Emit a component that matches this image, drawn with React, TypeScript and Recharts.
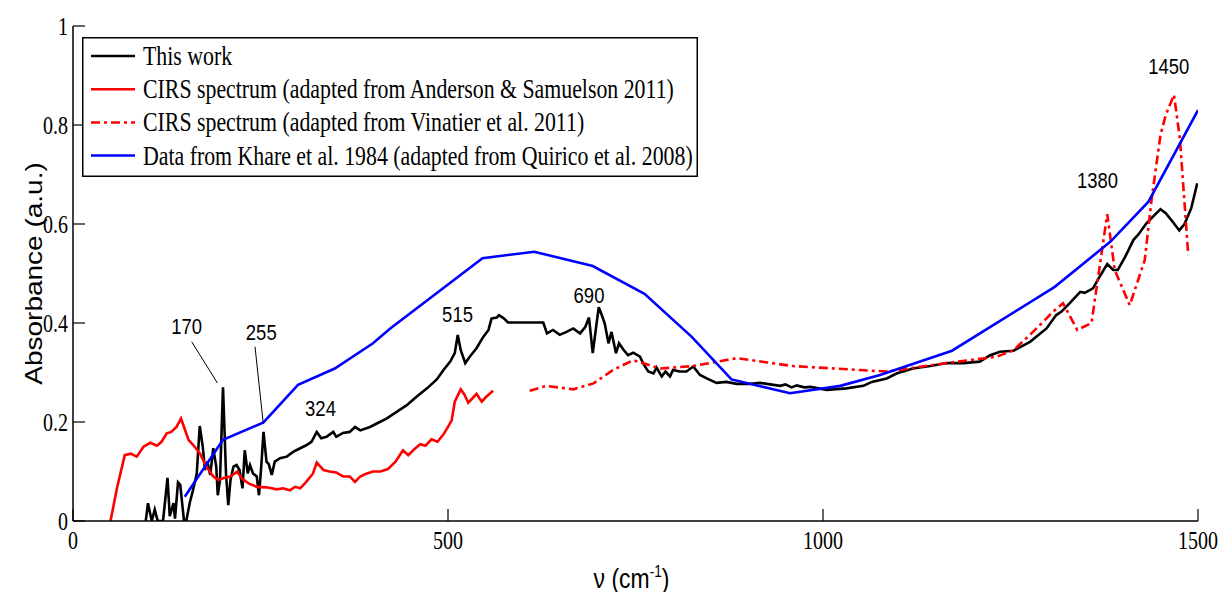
import React from "react";
import {
  Label,
  Legend,
  Line,
  LineChart,
  ReferenceDot,
  ReferenceLine,
  XAxis,
  YAxis,
} from "recharts";

// wavenumber (cm-1) and absorbance
const thisWorkNu = [
  97, 100, 105, 109, 113, 120, 126, 129, 134, 136, 140, 143, 148, 151, 156, 160,
  165, 169, 173, 176, 179, 183, 187, 191, 193, 196, 200, 204, 207, 210, 214, 218,
  222, 226, 229, 233, 236, 240, 245, 248, 251, 254, 258, 261, 265, 269, 276, 285,
  294, 303, 311, 318, 325, 331, 338, 347, 351, 360, 369, 376, 383, 396, 409, 418,
  431, 445, 458, 472, 485, 494, 503, 509, 513, 517, 523, 529, 538, 547, 554, 558,
  565, 568, 574, 580, 627, 632, 640, 649, 658, 667, 676, 683, 688, 693, 697, 701,
  705, 709, 714, 718, 724, 728, 734, 740, 747, 756, 760, 767, 774, 778, 785, 790,
  796, 800, 809, 818, 827, 836, 845, 858, 871, 885, 903, 916, 934, 943, 950, 958,
  965, 975, 983, 1005, 1031, 1054, 1065, 1085, 1098, 1120, 1143, 1165, 1187, 1209,
  1223, 1236, 1254, 1276, 1298, 1311, 1318, 1329, 1343, 1349, 1360, 1369, 1379,
  1387, 1393, 1403, 1414, 1420, 1431, 1440, 1450, 1457, 1467, 1475, 1482, 1491,
  1499,
];
const thisWorkAbs = [
  0, 0.036, 0, 0.023, 0, 0, 0.087, 0.01, 0.036, 0.005, 0.078, 0.073, 0, 0, 0.039,
  0.062, 0.096, 0.192, 0.15, 0.103, 0.12, 0.093, 0.147, 0.11, 0.052, 0.083, 0.27,
  0.096, 0.032, 0.083, 0.11, 0.113, 0.103, 0.066, 0.143, 0.096, 0.113, 0.096, 0.09,
  0.052, 0.11, 0.18, 0.12, 0.115, 0.093, 0.12, 0.127, 0.13, 0.14, 0.147, 0.153,
  0.16, 0.18, 0.167, 0.17, 0.18, 0.17, 0.178, 0.18, 0.19, 0.183, 0.19, 0.2, 0.207,
  0.22, 0.234, 0.251, 0.268, 0.286, 0.305, 0.322, 0.339, 0.376, 0.345, 0.319,
  0.332, 0.349, 0.372, 0.386, 0.409, 0.411, 0.416, 0.41, 0.401, 0.401, 0.379,
  0.386, 0.376, 0.382, 0.389, 0.379, 0.392, 0.411, 0.339, 0.386, 0.432, 0.416,
  0.399, 0.359, 0.382, 0.339, 0.359, 0.346, 0.335, 0.34, 0.332, 0.319, 0.302,
  0.298, 0.31, 0.292, 0.302, 0.292, 0.305, 0.302, 0.302, 0.312, 0.295, 0.288,
  0.279, 0.281, 0.277, 0.277, 0.279, 0.275, 0.273, 0.276, 0.27, 0.274, 0.27, 0.271,
  0.265, 0.268, 0.273, 0.281, 0.288, 0.298, 0.308, 0.313, 0.319, 0.319, 0.322,
  0.335, 0.342, 0.344, 0.362, 0.389, 0.416, 0.423, 0.44, 0.463, 0.461, 0.47, 0.494,
  0.519, 0.507, 0.507, 0.534, 0.568, 0.578, 0.601, 0.615, 0.63, 0.622, 0.603,
  0.587, 0.6, 0.632, 0.682,
];

const andersonNu = [
  50, 59, 69, 77, 85, 94, 103, 112, 118, 125, 131, 138, 144, 148, 154, 160, 169,
  178, 187, 194, 201, 210, 219, 225, 234, 245, 258, 272, 280, 289, 296, 303, 311,
  320, 325, 334, 342, 351, 360, 369, 376, 383, 390, 400, 410, 420, 430, 440, 447,
  455, 463, 470, 478, 486, 494, 500, 505, 509, 517, 522, 527, 532, 538, 545, 551,
  560,
];
const andersonAbs = [
  0, 0.069, 0.133, 0.136, 0.13, 0.15, 0.158, 0.152, 0.16, 0.177, 0.18, 0.19, 0.207,
  0.19, 0.164, 0.154, 0.137, 0.11, 0.09, 0.083, 0.087, 0.09, 0.1, 0.086, 0.076,
  0.069, 0.068, 0.064, 0.066, 0.062, 0.069, 0.066, 0.079, 0.096, 0.118, 0.103, 0.1,
  0.098, 0.09, 0.09, 0.079, 0.09, 0.095, 0.1, 0.1, 0.105, 0.12, 0.143, 0.133, 0.145,
  0.155, 0.152, 0.165, 0.16, 0.175, 0.19, 0.204, 0.241, 0.266, 0.255, 0.239, 0.247,
  0.257, 0.241, 0.251, 0.263,
];

const vinatierNu = [
  609, 631, 667, 694, 720, 747, 783, 827, 885, 960, 1049, 1085, 1165, 1232, 1254,
  1280, 1307, 1320, 1339, 1358, 1379, 1389, 1409, 1429, 1438, 1450, 1457, 1468,
  1476, 1487,
];
const vinatierAbs = [
  0.263, 0.273, 0.266, 0.278, 0.305, 0.325, 0.308, 0.313, 0.329, 0.313, 0.305,
  0.302, 0.319, 0.332, 0.345, 0.382, 0.423, 0.44, 0.386, 0.4, 0.62, 0.507, 0.436,
  0.527, 0.648, 0.78, 0.82, 0.861, 0.77, 0.537,
];

const khareNu = [
  149, 200, 254, 300, 349, 400, 423, 546, 615, 693, 762, 825, 878, 956, 1023, 1076,
  1172, 1309, 1383, 1434, 1500,
];
const khareAbs = [
  0.049, 0.164, 0.199, 0.275, 0.308, 0.359, 0.389, 0.531, 0.544, 0.515, 0.459,
  0.372, 0.286, 0.258, 0.273, 0.295, 0.344, 0.473, 0.564, 0.645, 0.83,
];

const xTicks = [0, 500, 1000, 1500];
const yTicks = [0, 0.2, 0.4, 0.6, 0.8, 1];

const peakLabels = ["170", "255", "324", "515", "690", "1380", "1450"];
const peakNu = [151.6, 251, 330, 512.7, 688, 1366, 1461];
const peakAbs = [0.378, 0.366, 0.212, 0.403, 0.44, 0.672, 0.904];

// leader lines for the 170 and 255 labels
const leaderFromNu = [158.3, 242.7];
const leaderFromAbs = [0.362, 0.352];
const leaderToNu = [192.4, 253.7];
const leaderToAbs = [0.279, 0.197];

const zip = (nu: number[], abs: number[]) =>
  nu.map((n, i) => ({ nu: n, abs: abs[i] }));

const series = [
  { name: "This work", color: "#000000", dash: undefined, data: zip(thisWorkNu, thisWorkAbs) },
  {
    name: "CIRS spectrum (adapted from Anderson & Samuelson 2011)",
    color: "#ff0000",
    dash: undefined,
    data: zip(andersonNu, andersonAbs),
  },
  {
    name: "CIRS spectrum (adapted from Vinatier et al. 2011)",
    color: "#ff0000",
    dash: "9 4 3 4",
    data: zip(vinatierNu, vinatierAbs),
  },
  {
    name: "Data from Khare et al. 1984 (adapted from Quirico et al. 2008)",
    color: "#0000ff",
    dash: undefined,
    data: zip(khareNu, khareAbs),
  },
];

const serif = "'Liberation Serif', 'Times New Roman', serif";
const sans = "'Liberation Sans', Arial, sans-serif";
const TICK = 12;

function LeftTick({ x, y, payload }: any) {
  return (
    <g>
      <line x1={x} x2={x + TICK} y1={y} y2={y} stroke="#000" strokeWidth={1.2} />
      <text
        transform={`translate(${x - 5},${y + 8.5}) scale(0.8,1)`}
        textAnchor="end"
        fontFamily={serif}
        fontSize={25}
        fill="#000"
      >
        {payload.value}
      </text>
    </g>
  );
}

function RightTick({ x, y }: any) {
  return <line x1={x} x2={x - TICK} y1={y} y2={y} stroke="#000" strokeWidth={1.2} />;
}

function BottomTick({ x, y, payload }: any) {
  return (
    <g>
      <line x1={x} x2={x} y1={y} y2={y - TICK} stroke="#000" strokeWidth={1.2} />
      <text
        transform={`translate(${x},${y + 27.5}) scale(0.8,1)`}
        textAnchor="middle"
        fontFamily={serif}
        fontSize={25}
        fill="#000"
      >
        {payload.value}
      </text>
    </g>
  );
}

function TopTick({ x, y }: any) {
  return <line x1={x} x2={x} y1={y} y2={y + TICK} stroke="#000" strokeWidth={1.2} />;
}

function XTitle({ viewBox }: any) {
  const cx = viewBox.x + viewBox.width / 2 - 4;
  const by = viewBox.y + 67;
  return (
    <text
      transform={`translate(${cx},${by}) scale(0.85,1)`}
      textAnchor="middle"
      fontFamily={sans}
      fontSize={27}
      fill="#000"
    >
      ν (cm
      <tspan dy={-11} fontSize={16}>
        -1
      </tspan>
      <tspan dy={11}>)</tspan>
    </text>
  );
}

function YTitle({ viewBox }: any) {
  const bx = viewBox.x + 42;
  const cy = viewBox.y + viewBox.height / 2;
  return (
    <text
      transform={`translate(${bx},${cy}) rotate(-90) scale(1,0.85)`}
      textAnchor="middle"
      fontFamily={sans}
      fontSize={28}
      fill="#000"
    >
      Absorbance (a.u.)
    </text>
  );
}

function BoxLegend() {
  return (
    <svg width={616} height={140} style={{ display: "block" }}>
      <rect x={0.75} y={0.75} width={614.5} height={138.5} fill="#fff" stroke="#000" strokeWidth={1.5} />
      {series.map((s, i) => {
        const y = 19 + i * 33.2;
        return (
          <g key={s.name}>
            <line x1={9} x2={53} y1={y} y2={y} stroke={s.color} strokeWidth={2.5} strokeDasharray={s.dash} />
            <text
              transform={`translate(61,${y + 9}) scale(0.78,1)`}
              fontFamily={serif}
              fontSize={28}
              fill="#000"
            >
              {s.name}
            </text>
          </g>
        );
      })}
    </svg>
  );
}

export default function App() {
  return (
    <div style={{ position: "absolute", left: 0, top: 0, width: 1221, height: 592, background: "#fff" }}>
      <LineChart width={1221} height={592} margin={{ top: 26, right: 23, bottom: 0, left: 0 }}>
        <XAxis
          type="number"
          dataKey="nu"
          domain={[0, 1500]}
          ticks={xTicks}
          interval={0}
          allowDataOverflow
          height={71}
          tickSize={0}
          tickMargin={0}
          tickLine={false}
          axisLine={{ stroke: "#000", strokeWidth: 1.5 }}
          tick={<BottomTick />}
        >
          <Label content={<XTitle />} />
        </XAxis>
        <XAxis
          xAxisId="top"
          orientation="top"
          type="number"
          domain={[0, 1500]}
          ticks={xTicks}
          interval={0}
          allowDataOverflow
          height={0}
          tickSize={0}
          tickMargin={0}
          tickLine={false}
          axisLine={{ stroke: "#000", strokeWidth: 1.5 }}
          tick={<TopTick />}
        />
        <YAxis
          type="number"
          domain={[0, 1]}
          ticks={yTicks}
          interval={0}
          allowDataOverflow
          width={73}
          tickSize={0}
          tickMargin={0}
          tickLine={false}
          axisLine={{ stroke: "#000", strokeWidth: 1.5 }}
          tick={<LeftTick />}
        >
          <Label content={<YTitle />} />
        </YAxis>
        <YAxis
          yAxisId="right"
          orientation="right"
          type="number"
          domain={[0, 1]}
          ticks={yTicks}
          interval={0}
          allowDataOverflow
          width={0}
          tickSize={0}
          tickMargin={0}
          tickLine={false}
          axisLine={{ stroke: "#000", strokeWidth: 1.5 }}
          tick={<RightTick />}
        />
        {series.map((s) => (
          <Line
            key={s.name}
            name={s.name}
            data={s.data}
            dataKey="abs"
            type="linear"
            stroke={s.color}
            strokeWidth={2.6}
            strokeDasharray={s.dash}
            dot={false}
            activeDot={false}
            isAnimationActive={false}
          />
        ))}
        {leaderFromNu.map((n, i) => (
          <ReferenceLine
            key={`leader-${i}`}
            segment={[
              { x: n, y: leaderFromAbs[i] },
              { x: leaderToNu[i], y: leaderToAbs[i] },
            ]}
            stroke="#000"
            strokeWidth={1}
          />
        ))}
        {peakLabels.map((label, i) => (
          <ReferenceDot
            key={label}
            x={peakNu[i]}
            y={peakAbs[i]}
            r={0}
            shape={(p: any) => (
              <text
                transform={`translate(${p.cx},${p.cy}) scale(0.84,1)`}
                textAnchor="middle"
                fontFamily={sans}
                fontSize={22}
                fill="#000"
              >
                {label}
              </text>
            )}
          />
        ))}
        <Legend
          layout="vertical"
          align="center"
          verticalAlign="middle"
          wrapperStyle={{ left: 82, top: 37, width: 616, height: 140 }}
          content={() => <BoxLegend />}
        />
      </LineChart>
    </div>
  );
}
